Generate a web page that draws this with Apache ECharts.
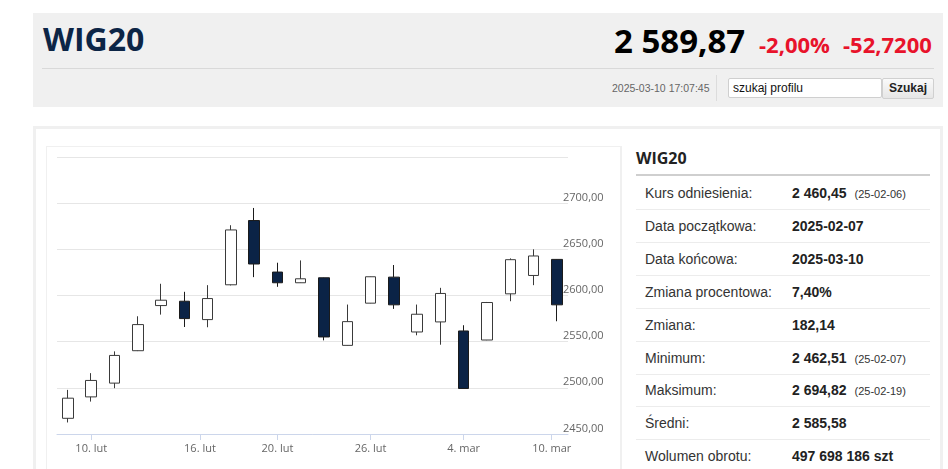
<!DOCTYPE html>
<html>
<head>
<meta charset="utf-8">
<script src="https://cdn.jsdelivr.net/npm/echarts@6/dist/echarts.min.js"></script>
<style>
  html, body { margin: 0; padding: 0; background: #fff; width: 948px; height: 469px; overflow: hidden; }
  body { position: relative; font-family: "Liberation Sans", Arial, sans-serif; }
  .abs { position: absolute; }
  #header { left: 33px; top: 13px; width: 910px; height: 94px; background: #f0f0f0; }
  #title { left: 43px; top: 19px; font-family: "Open Sans", sans-serif; font-weight: 700; font-size: 32px; line-height: 40px; color: #0c2546; white-space: nowrap; }
  #price { left: 614px; top: 21px; font-family: "Open Sans", sans-serif; font-weight: 700; font-size: 33px; line-height: 40px; color: #000; white-space: nowrap; }
  .red { font-family: "Open Sans", sans-serif; font-weight: 700; font-size: 22px; line-height: 30px; color: #e8132b; white-space: nowrap; top: 29px; }
  #hsep { left: 42px; top: 68px; width: 892px; height: 1px; background: #d9d9d9; }
  #stamp { left: 612px; top: 81px; font-size: 10.5px; line-height: 14px; color: #666; white-space: nowrap; }
  #vsep { left: 716px; top: 75px; width: 1px; height: 26px; background: #dcdcdc; }
  #search { left: 728px; top: 78px; width: 148px; height: 18px; background: #fff; border: 1px solid #cfcfcf; font-size: 12px; line-height: 18px; color: #111; padding-left: 4px; box-sizing: content-box; border-radius: 2px; }
  #btn { left: 882px; top: 78px; width: 50px; height: 19px; background: linear-gradient(#fafafa, #e6e6e6); border: 1px solid #d0d0d0; font-size: 12px; font-weight: 700; line-height: 19px; text-align: center; color: #222; border-radius: 2px; }
  #outer { left: 33px; top: 126px; width: 904px; height: 400px; border: 3px solid #f0f0f0; }
  #panel { left: 46px; top: 146px; width: 572px; height: 400px; border: 2px solid #f0f0f0; }
  #chart { left: 47px; top: 147px; width: 573px; height: 322px; }
  #rtitle { left: 636px; top: 148px; font-family: "Open Sans", sans-serif; font-weight: 700; font-size: 16px; line-height: 20px; color: #222; }
  #rline { left: 636px; top: 174px; width: 294px; height: 2px; background: #cfcfcf; }
  .row { position: absolute; left: 636px; width: 294px; height: 32px; border-bottom: 1px solid #ececec; font-size: 14px; line-height: 33px; color: #333; white-space: nowrap; }
  .row .lab { position: absolute; left: 9px; }
  .row .val { position: absolute; left: 156px; font-weight: 700; color: #222; }
  .row .dt { font-weight: 400; font-size: 11px; color: #333; margin-left: 8px; }
</style>
</head>
<body>
<div id="header" class="abs"></div>
<div id="title" class="abs">WIG20</div>
<div id="price" class="abs">2 589,87</div>
<div class="abs red" style="left:759px">-2,00%</div>
<div class="abs red" style="left:843px">-52,7200</div>
<div id="hsep" class="abs"></div>
<div id="stamp" class="abs">2025-03-10 17:07:45</div>
<div id="vsep" class="abs"></div>
<div id="search" class="abs">szukaj profilu</div>
<div id="btn" class="abs">Szukaj</div>

<div id="outer" class="abs"></div>
<div id="panel" class="abs"></div>
<div id="chart" class="abs"></div>

<div id="rtitle" class="abs">WIG20</div>
<div id="rline" class="abs"></div>
<div id="rows"></div>

<script>
// ---- data ----
var dates = ['2025-02-07','2025-02-10','2025-02-11','2025-02-12','2025-02-13','2025-02-14',
             '2025-02-17','2025-02-18','2025-02-19','2025-02-20','2025-02-21','2025-02-24',
             '2025-02-25','2025-02-26','2025-02-27','2025-02-28','2025-03-03','2025-03-04',
             '2025-03-05','2025-03-06','2025-03-07','2025-03-10'];
var openV  = [2467.0, 2490.2, 2505.1, 2540.2, 2589.1, 2593.8, 2573.9, 2611.6, 2681.2, 2625.4, 2613.8, 2619.2,
              2546.0, 2591.7, 2619.9, 2560.5, 2571.4, 2561.6, 2551.8, 2601.8, 2621.7, 2639.1];
var closeV = [2488.8, 2508.0, 2535.1, 2568.5, 2594.9, 2575.0, 2596.7, 2671.0, 2634.1, 2613.8, 2618.1, 2555.1,
              2571.7, 2620.3, 2589.9, 2579.7, 2602.2, 2499.3, 2592.4, 2638.8, 2642.8, 2589.9];
var lowV   = [2462.5, 2485.1, 2499.6, 2539.8, 2579.3, 2565.9, 2565.6, 2610.9, 2619.9, 2609.4, 2613.6, 2551.4,
              2545.8, 2591.5, 2585.5, 2556.9, 2546.7, 2499.1, 2551.6, 2593.8, 2611.2, 2572.1];
var highV  = [2497.8, 2515.9, 2539.5, 2577.5, 2612.7, 2604.0, 2611.2, 2676.1, 2694.8, 2635.5, 2638.0, 2619.4,
              2590.2, 2620.5, 2633.0, 2590.2, 2608.3, 2567.8, 2593.0, 2640.2, 2650.0, 2639.3];

// x-axis ticks (position in trading-day index units) and their labels
var tickPositions = [1, 5.67, 9, 13, 17, 20.78];
var tickLabels = ['10. lut', '16. lut', '20. lut', '26. lut', '4. mar', '10. mar'];

// y-axis scale
var yMin = 2450, yMax = 2750, yStep = 50;

// side panel statistics
var statLabels = ['Kurs odniesienia:', 'Data początkowa:', 'Data końcowa:', 'Zmiana procentowa:', 'Zmiana:',
                  'Minimum:', 'Maksimum:', 'Średni:', 'Wolumen obrotu:'];
var statValues = ['2 460,45', '2025-02-07', '2025-03-10', '7,40%', '182,14', '2 462,51', '2 694,82', '2 585,58', '497 698 186 szt'];
var statDates  = ['(25-02-06)', '', '', '', '', '(25-02-07)', '(25-02-19)', '', ''];

// ---- side panel ----
(function () {
  var html = '';
  for (var i = 0; i < statLabels.length; i++) {
    var rowTop = 177 + i * 32.9;
    var last = i === statLabels.length - 1;
    html += '<div class="row" style="top:' + rowTop.toFixed(1) + 'px;' + (last ? 'border-bottom:none;' : '') + '">' +
      '<span class="lab">' + statLabels[i] + '</span>' +
      '<span class="val">' + statValues[i] + (statDates[i] ? '<span class="dt">' + statDates[i] + '</span>' : '') + '</span></div>';
  }
  document.getElementById('rows').innerHTML = html;
})();

// ---- chart ----
var candles = dates.map(function (d, i) { return [i, openV[i], closeV[i], lowV[i], highV[i]]; });

var chart = echarts.init(document.getElementById('chart'), null, { renderer: 'canvas' });
chart.setOption({
  animation: false,
  backgroundColor: '#ffffff',
  grid: { left: 10, right: 52, top: 10, bottom: 35 },
  xAxis: {
    type: 'value',
    min: -0.47,
    max: 21.48,
    splitLine: { show: false },
    axisLine: { show: true, lineStyle: { color: '#ccd6eb', width: 1 } },
    axisTick: { show: true, customValues: tickPositions, length: 6, lineStyle: { color: '#ccd6eb' } },
    axisLabel: {
      customValues: tickPositions,
      margin: 9,
      color: '#666666',
      fontSize: 11,
      fontFamily: 'Open Sans',
      formatter: function (v) {
        for (var k = 0; k < tickPositions.length; k++) {
          if (Math.abs(tickPositions[k] - v) < 1e-6) return tickLabels[k];
        }
        return '';
      }
    }
  },
  yAxis: {
    type: 'value',
    position: 'right',
    min: yMin,
    max: yMax,
    interval: yStep,
    axisLine: { show: false },
    axisTick: { show: false },
    splitLine: { show: true, lineStyle: { color: '#e6e6e6', width: 1 } },
    axisLabel: {
      showMaxLabel: false,
      margin: -5,
      align: 'left',
      verticalAlign: 'bottom',
      lineHeight: 11,
      color: '#666666',
      fontSize: 11,
      fontFamily: 'Open Sans',
      formatter: function (v) { return v.toFixed(2).replace('.', ','); }
    }
  },
  series: [{
    type: 'candlestick',
    data: candles,
    barWidth: 11,
    itemStyle: {
      color: '#ffffff',
      color0: '#0b2346',
      borderColor: '#3a3a3a',
      borderColor0: '#1b1b1b',
      borderWidth: 1
    },
    emphasis: { disabled: true }
  }]
});
</script>
</body>
</html>
